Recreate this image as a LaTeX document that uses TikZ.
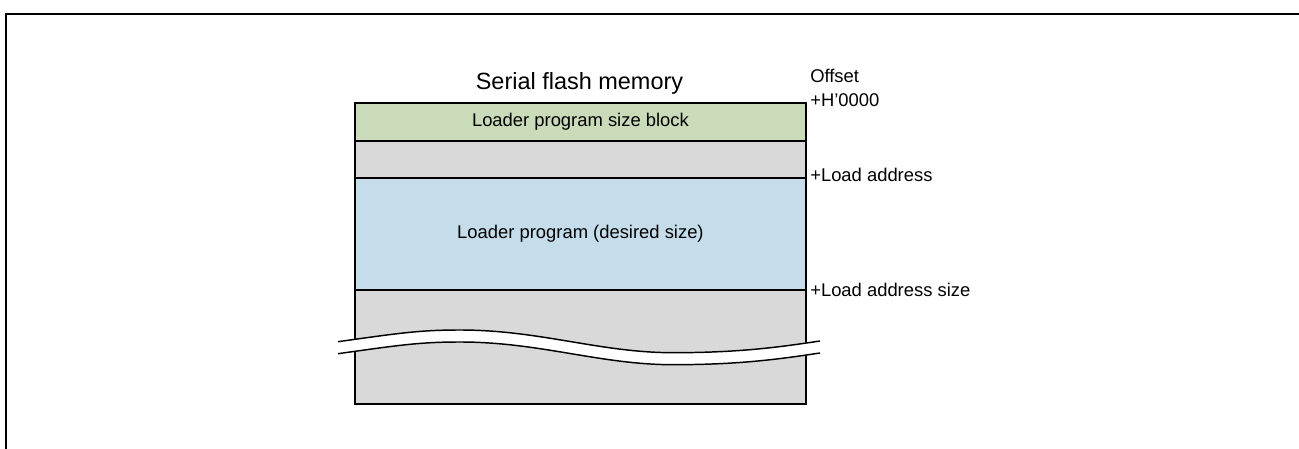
\documentclass[tikz,border=0pt]{standalone}
\usepackage{fontspec}
\setmainfont{Liberation Sans}
\definecolor{blkgreen}{RGB}{201,219,185}
\definecolor{blkgray}{RGB}{217,217,217}
\definecolor{blkblue}{RGB}{197,221,234}
\begin{document}
\begin{tikzpicture}[x=0.75pt,y=-0.75pt,
  memblock/.style={draw=black,line width=1.4pt,inner sep=0pt,anchor=north west,
    minimum width=338.25pt,font=\fontsize{13.8pt}{16pt}\selectfont},
  offlabel/.style={anchor=base west,inner sep=0pt,font=\fontsize{13.8pt}{16pt}\selectfont},
  wave/.style={line width=1.1pt,draw=black}]
\useasboundingbox (0,0) rectangle (1299,449);
% frame
\draw[line width=1.5pt] (6,449) -- (6,14) -- (1299,14);
% blocks
\node[memblock,fill=blkgray,minimum height=85.5pt] (rest) at (354,289) {};
\node[memblock,fill=blkblue,minimum height=84pt,text height=10pt,text depth=3pt] (loader) at (354,177) {Loader program (desired size)};
\node[memblock,fill=blkgray,minimum height=27.75pt] (gap) at (354,140) {};
\node[memblock,fill=blkgreen,minimum height=28.5pt] (sizeblk) at (354,102) {Loader program size block};
% title
\node[anchor=base,inner sep=0pt,font=\fontsize{17.6pt}{20pt}\selectfont] (title) at (579.5,89.5) {Serial flash memory};
% offsets
\node[offlabel] (offset) at (810,83) {Offset};
\node[offlabel] (h0000) at (810,107) {+H’0000};
\node[offlabel] (ladr) at (810,182) {+Load address};
\node[offlabel] (ladrsize) at (810,296) {+Load address size};
% wave break
\fill[white] (338,341.7) .. controls (400,333) and (420,330) .. (460,330)
  .. controls (540,330) and (600,352.7) .. (673,352.7)
  .. controls (740,352.7) and (780,347) .. (820,341)
  -- (820,353) .. controls (780,359) and (740,364.7) .. (673,364.7)
  .. controls (600,364.7) and (540,342) .. (460,342)
  .. controls (420,342) and (400,345) .. (338,353.7) -- cycle;
\draw[wave] (338,341.7) .. controls (400,333) and (420,330) .. (460,330)
  .. controls (540,330) and (600,352.7) .. (673,352.7)
  .. controls (740,352.7) and (780,347) .. (820,341);
\draw[wave] (338,353.7) .. controls (400,345) and (420,342) .. (460,342)
  .. controls (540,342) and (600,364.7) .. (673,364.7)
  .. controls (740,364.7) and (780,359) .. (820,353);
\end{tikzpicture}
\end{document}
